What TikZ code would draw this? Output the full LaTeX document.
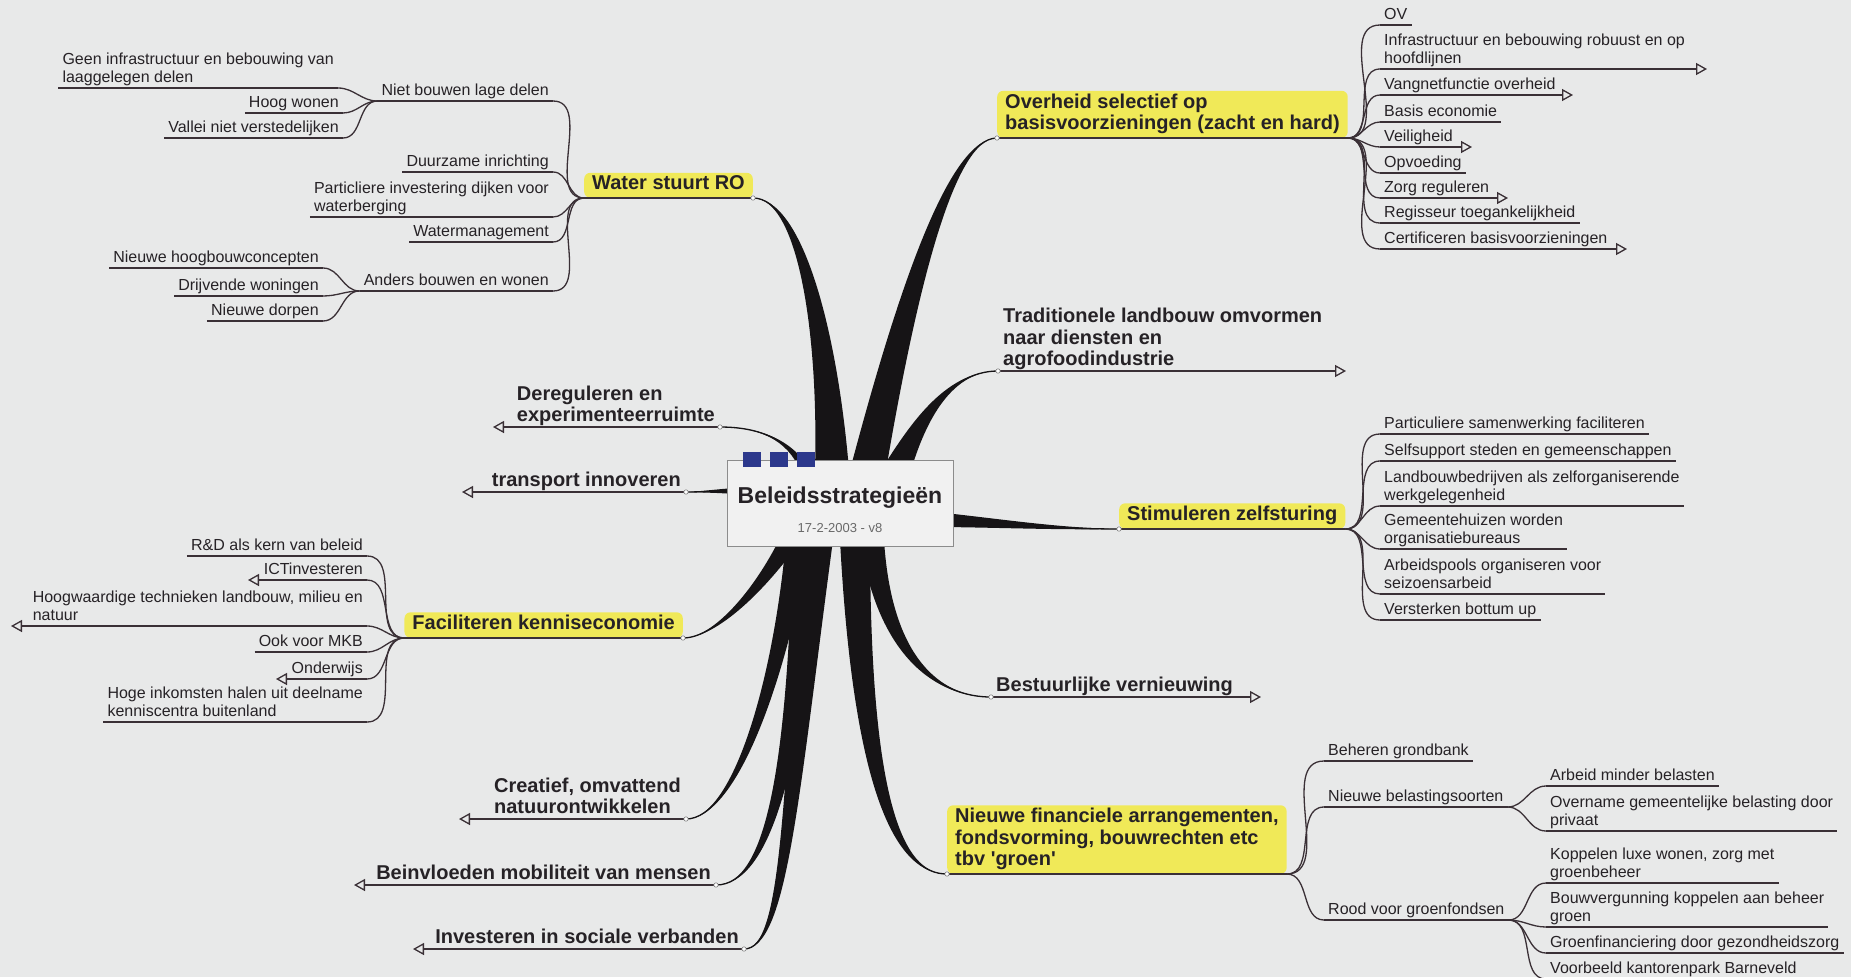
\documentclass[tikz,border=0pt]{standalone}
\usepackage{fontspec}
\setmainfont{Liberation Sans}
\usetikzlibrary{arrows.meta,calc}
\definecolor{bg}{RGB}{232,233,233}
\definecolor{ink}{RGB}{38,34,38}
\definecolor{lnk}{RGB}{58,48,54}
\definecolor{ylw}{RGB}{240,233,88}
\definecolor{trunk}{RGB}{22,20,22}
\definecolor{navy}{RGB}{44,56,140}
\definecolor{boxline}{RGB}{140,140,140}
\definecolor{boxfill}{RGB}{241,241,241}
\definecolor{dategray}{RGB}{105,105,105}
% tapered branch: base, control 1, control 2, tip, half-width offset
\newcommand\tbranch[5]{%
  \fill[trunk] ($(#1)+(#5)$) .. controls ($(#2)+0.55*(#5)$) and ($(#3)+0.15*(#5)$) .. (#4)
     .. controls ($(#3)-0.15*(#5)$) and ($(#2)-0.55*(#5)$) .. ($(#1)-(#5)$) -- cycle;
  \draw[trunk, line width=1.3pt] (#1) .. controls (#2) and (#3) .. (#4);}
\tikzset{
  sub/.style={font=\fontsize{16}{18}\selectfont, text=ink, inner xsep=4pt, inner ysep=0pt,
    align=left, execute at end node={\rule[-5pt]{0pt}{5pt}}},
  topic/.style={font=\fontsize{20}{21.5}\selectfont\bfseries, text=ink, inner xsep=5pt,
    inner ysep=0pt, align=left, execute at end node={\rule[-5pt]{0pt}{5pt}}},
  hl/.style={topic, fill=ylw, rounded corners=6pt, inner xsep=8pt, inner ysep=3pt},
  conn/.style={draw=lnk, line width=1.3pt},
  arr/.style={conn, -{Triangle[open, length=11pt, width=12pt]}},
  dot/.style={fill=white, draw=gray, line width=0.6pt},
}
\begin{document}
\begin{tikzpicture}[x=1pt, y=-1pt]
\useasboundingbox (0,0) rectangle (1851,977);
\fill[bg] (0,0) rectangle (1851,977);

% ---------------- Water stuurt RO ----------------
\node[hl, anchor=south west] (water) at (584,198) {Water stuurt RO};
\node[sub, anchor=south east] (niet) at (553,101) {Niet bouwen lage delen};
\node[sub, anchor=south east] (geen) at (338,88) {Geen infrastructuur en bebouwing van\\laaggelegen delen};
\node[sub, anchor=south east] (hoog) at (343,113) {Hoog wonen};
\node[sub, anchor=south east] (vallei) at (343,138) {Vallei niet verstedelijken};
\node[sub, anchor=south east] (duur) at (553,172) {Duurzame inrichting};
\node[sub, anchor=south east] (part) at (553,217) {Particliere investering dijken voor\\waterberging};
\node[sub, anchor=south east] (wman) at (553,242) {Watermanagement};
\node[sub, anchor=south east] (anders) at (553,291) {Anders bouwen en wonen};
\node[sub, anchor=south east] (hoogb) at (323,268) {Nieuwe hoogbouwconcepten};
\node[sub, anchor=south east] (drijf) at (323,296) {Drijvende woningen};
\node[sub, anchor=south east] (dorp) at (323,321) {Nieuwe dorpen};
\draw[conn] (water.south west) -- (water.south east);
\foreach \c in {niet,duur,part,wman,anders}
  \draw[conn] (water.south west) to[out=180,in=0] (\c.south east);
\foreach \c in {geen,hoog,vallei}
  \draw[conn] (niet.south west) to[out=180,in=0] (\c.south east);
\foreach \c in {hoogb,drijf,dorp}
  \draw[conn] (anders.south west) to[out=180,in=0] (\c.south east);
\foreach \c in {niet,geen,hoog,vallei,duur,part,wman,anders,hoogb,drijf,dorp}
  \draw[conn] (\c.south west) -- (\c.south east);

% ---------------- Overheid ----------------
\node[hl, anchor=south west] (overheid) at (997,138) {Overheid selectief op\\basisvoorzieningen (zacht en hard)};
\node[sub, anchor=south west] (ov) at (1380,25) {OV};
\node[sub, anchor=south west] (infra) at (1380,69) {Infrastructuur en bebouwing robuust en op\\hoofdlijnen};
\node[sub, anchor=south west] (vang) at (1380,95) {Vangnetfunctie overheid};
\node[sub, anchor=south west] (basis) at (1380,122) {Basis economie};
\node[sub, anchor=south west] (veil) at (1380,147) {Veiligheid};
\node[sub, anchor=south west] (opv) at (1380,173) {Opvoeding};
\node[sub, anchor=south west] (zorg) at (1380,198) {Zorg reguleren};
\node[sub, anchor=south west] (regis) at (1380,223) {Regisseur toegankelijkheid};
\node[sub, anchor=south west] (cert) at (1380,249) {Certificeren basisvoorzieningen};
\draw[conn] (overheid.south west) -- (overheid.south east);
\foreach \c in {ov,infra,vang,basis,veil,opv,zorg,regis,cert}
  \draw[conn] (overheid.south east) to[out=0,in=180] (\c.south west);
\foreach \c in {ov,basis,opv,regis}
  \draw[conn] (\c.south west) -- (\c.south east);
\coordinate (infraA) at (1707,69);
\coordinate (vangA) at (1573,95);
\coordinate (veilA) at (1472,147);
\coordinate (zorgA) at (1508,198);
\coordinate (certA) at (1627,249);
\foreach \c in {infra,vang,veil,zorg,cert}
  \draw[arr] (\c.south west) -- (\c A);

% ---------------- Traditionele ----------------
\node[topic, anchor=south west] (trad) at (998,371) {Traditionele landbouw omvormen\\naar diensten en\\agrofoodindustrie};
\coordinate (tradA) at (1346,371);
\draw[arr] (trad.south west) -- (tradA);

% ---------------- Stimuleren zelfsturing ----------------
\node[hl, anchor=south west] (stim) at (1119,529) {Stimuleren zelfsturing};
\node[sub, anchor=south west] (psam) at (1380,434) {Particuliere samenwerking faciliteren};
\node[sub, anchor=south west] (self) at (1380,461) {Selfsupport steden en gemeenschappen};
\node[sub, anchor=south west] (landb) at (1380,506) {Landbouwbedrijven als zelforganiserende\\werkgelegenheid};
\node[sub, anchor=south west] (gemh) at (1380,549) {Gemeentehuizen worden\\organisatiebureaus};
\node[sub, anchor=south west] (arbp) at (1380,594) {Arbeidspools organiseren voor\\seizoensarbeid};
\node[sub, anchor=south west] (verst) at (1380,620) {Versterken bottum up};
\draw[conn] (stim.south west) -- (stim.south east);
\foreach \c in {psam,self,landb,gemh,arbp,verst}{
  \draw[conn] (stim.south east) to[out=0,in=180] (\c.south west);
  \draw[conn] (\c.south west) -- (\c.south east);}

% ---------------- Bestuurlijke vernieuwing ----------------
\node[topic, anchor=south west] (best) at (991,697) {Bestuurlijke vernieuwing};
\coordinate (bestA) at (1261,697);
\draw[arr] (best.south west) -- (bestA);

% ---------------- Nieuwe financiele ----------------
\node[hl, anchor=south west] (nfin) at (947,874) {Nieuwe financiele arrangementen,\\fondsvorming, bouwrechten etc\\tbv \textquotesingle groen\textquotesingle};
\node[sub, anchor=south west] (beh) at (1324,761) {Beheren grondbank};
\node[sub, anchor=south west] (nbel) at (1324,807) {Nieuwe belastingsoorten};
\node[sub, anchor=south west] (rood) at (1324,920) {Rood voor groenfondsen};
\node[sub, anchor=south west] (arb) at (1546,786) {Arbeid minder belasten};
\node[sub, anchor=south west] (overn) at (1546,831) {Overname gemeentelijke belasting door\\privaat};
\node[sub, anchor=south west] (kopp) at (1546,883) {Koppelen luxe wonen, zorg met\\groenbeheer};
\node[sub, anchor=south west] (bouwv) at (1546,927) {Bouwvergunning koppelen aan beheer\\groen};
\node[sub, anchor=south west] (groenf) at (1546,953) {Groenfinanciering door gezondheidszorg};
\node[sub, anchor=south west] (voorb) at (1546,979) {Voorbeeld kantorenpark Barneveld};
\draw[conn] (nfin.south west) -- (nfin.south east);
\foreach \c in {beh,nbel,rood}
  \draw[conn] (nfin.south east) to[out=0,in=180] (\c.south west);
\foreach \c in {arb,overn}
  \draw[conn] (nbel.south east) to[out=0,in=180] (\c.south west);
\foreach \c in {kopp,bouwv,groenf,voorb}
  \draw[conn] (rood.south east) to[out=0,in=180] (\c.south west);
\foreach \c in {beh,nbel,rood,arb,overn,kopp,bouwv,groenf,voorb}
  \draw[conn] (\c.south west) -- (\c.south east);

% ---------------- Left main topics ----------------
\node[topic, anchor=south east] (dereg) at (720,427) {Dereguleren en\\experimenteerruimte};
\coordinate (deregA) at (493,427);
\draw[arr] (dereg.south east) -- (deregA);
\node[topic, anchor=south east] (transp) at (686,492) {transport innoveren};
\coordinate (transpA) at (462,492);
\draw[arr] (transp.south east) -- (transpA);
\node[topic, anchor=south east] (creat) at (686,819) {Creatief, omvattend\\natuurontwikkelen};
\coordinate (creatA) at (459,819);
\draw[arr] (creat.south east) -- (creatA);
\node[topic, anchor=south east] (beinv) at (716,885) {Beinvloeden mobiliteit van mensen};
\coordinate (beinvA) at (354,885);
\draw[arr] (beinv.south east) -- (beinvA);
\node[topic, anchor=south east] (invest) at (744,949) {Investeren in sociale verbanden};
\coordinate (investA) at (413,949);
\draw[arr] (invest.south east) -- (investA);

% ---------------- Faciliteren kenniseconomie ----------------
\node[hl, anchor=south east] (facil) at (683,638) {Faciliteren kenniseconomie};
\node[sub, anchor=south east] (rd) at (367,556) {R\&D als kern van beleid};
\node[sub, anchor=south east] (ict) at (367,580) {ICTinvesteren};
\node[sub, anchor=south east] (hoogw) at (367,626) {Hoogwaardige technieken landbouw, milieu en\\natuur};
\node[sub, anchor=south east] (mkb) at (367,652) {Ook voor MKB};
\node[sub, anchor=south east] (onderw) at (367,679) {Onderwijs};
\node[sub, anchor=south east] (hoge) at (367,722) {Hoge inkomsten halen uit deelname\\kenniscentra buitenland};
\draw[conn] (facil.south west) -- (facil.south east);
\foreach \c in {rd,ict,hoogw,mkb,onderw,hoge}
  \draw[conn] (facil.south west) to[out=180,in=0] (\c.south east);
\foreach \c in {rd,mkb,hoge}
  \draw[conn] (\c.south west) -- (\c.south east);
\coordinate (ictA) at (248,580);
\coordinate (hoogwA) at (11,626);
\coordinate (onderwA) at (276,679);
\foreach \c in {ict,hoogw,onderw}
  \draw[arr] (\c.south east) -- (\c A);

% ---------------- tapered branches from the centre ----------------
\tbranch{832,470}{828,330}{800,198}{water.south east}{17,0}
\tbranch{868,470}{905,300}{950,138}{overheid.south west}{18,0}
\tbranch{896,470}{915,430}{945,371}{trad.south west}{15,0}
\tbranch{805,470}{790,440}{760,427}{dereg.south east}{5,0}
\tbranch{735,491}{715,491}{700,492}{transp.south east}{0,3}
\tbranch{945,520}{1010,524}{1060,529}{stim.south west}{0,7}
\tbranch{790,540}{760,590}{715,638}{facil.south east}{11,0}
\tbranch{798,540}{780,680}{735,819}{creat.south east}{12,0}
\tbranch{808,540}{795,760}{770,885}{beinv.south east}{15,0}
\tbranch{818,540}{790,800}{785,949}{invest.south east}{15,0}
\tbranch{855,540}{862,800}{900,874}{nfin.south west}{15,0}
\tbranch{872,540}{885,660}{940,697}{best.south west}{12,0}

% ---------------- central topic ----------------
\node[draw=boxline, fill=boxfill, line width=1.2pt, minimum width=226pt, minimum height=86pt,
      inner sep=0pt, anchor=north west] (root) at (727,460) {};
\node[font=\fontsize{23}{26}\selectfont\bfseries, text=ink, anchor=base] (rtitle) at (840,503) {Beleidsstrategieën};
\node[font=\fontsize{13}{15}\selectfont, text=dategray, anchor=base] (rdate) at (840,532) {17-2-2003 - v8};
\fill[navy] (743,452) rectangle (761,467);
\fill[navy] (770,452) rectangle (788,467);
\fill[navy] (797,452) rectangle (815,467);

% tip dots
\foreach \t in {water.south east, overheid.south west, trad.south west, dereg.south east,
  transp.south east, stim.south west, facil.south east, creat.south east, beinv.south east,
  invest.south east, nfin.south west, best.south west}
  \draw[dot] (\t) circle (2.2pt);
\end{tikzpicture}
\end{document}
